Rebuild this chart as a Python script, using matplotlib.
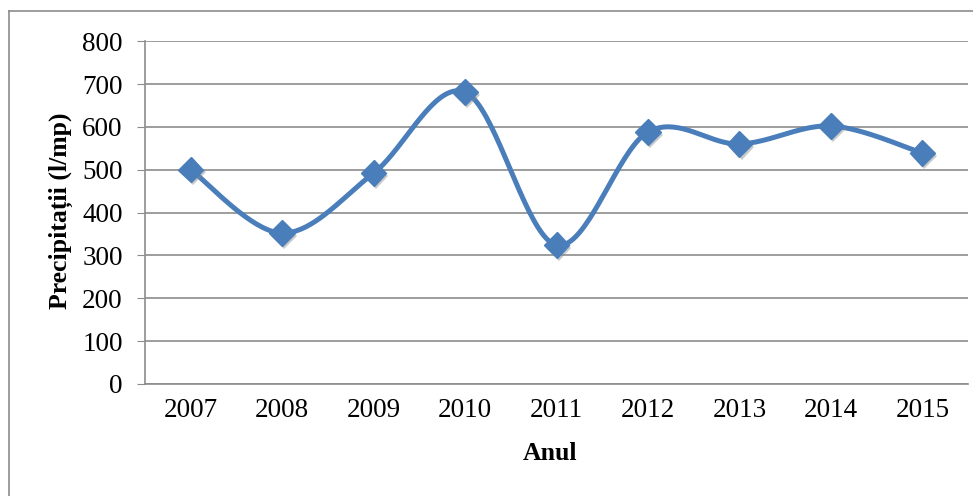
import numpy as np
import matplotlib.pyplot as plt
from matplotlib.lines import Line2D
import matplotlib.patheffects as pe

years = ["2007", "2008", "2009", "2010", "2011", "2012", "2013", "2014", "2015"]
precip = [500, 352, 492, 681, 324, 588, 560, 602, 539]

plt.rcParams['font.family'] = ['Liberation Serif', 'DejaVu Serif']


def smooth(x, y, n=40):
    # Catmull-Rom style bezier between each pair of points
    x = np.asarray(x, float)
    y = np.asarray(y, float)
    px = np.concatenate([[x[0]], x, [x[-1]]])
    py = np.concatenate([[y[0]], y, [y[-1]]])
    xs, ys = [], []
    t = np.linspace(0, 1, n)
    for i in range(1, len(px) - 2):
        p0 = np.array([px[i], py[i]])
        p3 = np.array([px[i + 1], py[i + 1]])
        p1 = p0 + (p3 - np.array([px[i - 1], py[i - 1]])) / 6
        p2 = p3 - (np.array([px[i + 2], py[i + 2]]) - p0) / 6
        b = ((1 - t) ** 3)[:, None] * p0 + (3 * (1 - t) ** 2 * t)[:, None] * p1 \
            + (3 * (1 - t) * t ** 2)[:, None] * p2 + (t ** 3)[:, None] * p3
        xs.extend(b[:, 0])
        ys.extend(b[:, 1])
    return np.array(xs), np.array(ys)


fig = plt.figure(figsize=(9.73, 4.96), dpi=100)
ax = fig.add_axes([0.149, 0.226, 0.846, 0.691])

x = np.arange(len(years))
sx, sy = smooth(x, precip)
blue = '#4a7ebb'
shadow = [pe.SimplePatchShadow(offset=(1.5, -2), shadow_rgbFace='#8a8a8a', alpha=0.45), pe.Normal()]
ax.plot(sx, sy, color=blue, lw=3.6, solid_capstyle='round', zorder=3)
ax.plot(x, precip, linestyle='none', marker='D', markersize=13, color=blue,
        markeredgecolor=blue, zorder=4, path_effects=shadow)

ax.set_xlim(-0.5, len(years) - 0.5)
ax.set_ylim(0, 800)
ax.set_yticks(range(0, 801, 100))
ax.set_xticks(x)
ax.set_xticklabels(years)
ax.yaxis.grid(True, color='#8c8c8c', lw=1.2)
ax.set_axisbelow(True)
for s in ['top', 'right']:
    ax.spines[s].set_visible(False)
ax.spines['left'].set_color('#8c8c8c')
ax.spines['bottom'].set_color('#8c8c8c')
ax.spines['left'].set_linewidth(1.2)
ax.spines['bottom'].set_linewidth(1.2)
ax.tick_params(axis='y', length=6, color='#8c8c8c', labelsize=19.5, pad=10)
ax.tick_params(axis='x', length=0, labelsize=19.5, pad=10)

# axis titles
fig.text(61 / 973, 1 - 211 / 496, 'Precipitații (l/mp)', rotation=90,
         ha='center', va='center', fontsize=18.5, fontweight='bold')
fig.text(550 / 973, 1 - 453 / 496, 'Anul', ha='center', va='center',
         fontsize=18.5, fontweight='bold')

# outer chart frame
fig.add_artist(Line2D([0.0093, 0.0093], [0, 0.978], color='#8c8c8c', lw=1.2))
fig.add_artist(Line2D([0.0093, 1], [0.978, 0.978], color='#8c8c8c', lw=1.2))

fig.savefig('out.png', dpi=100)
